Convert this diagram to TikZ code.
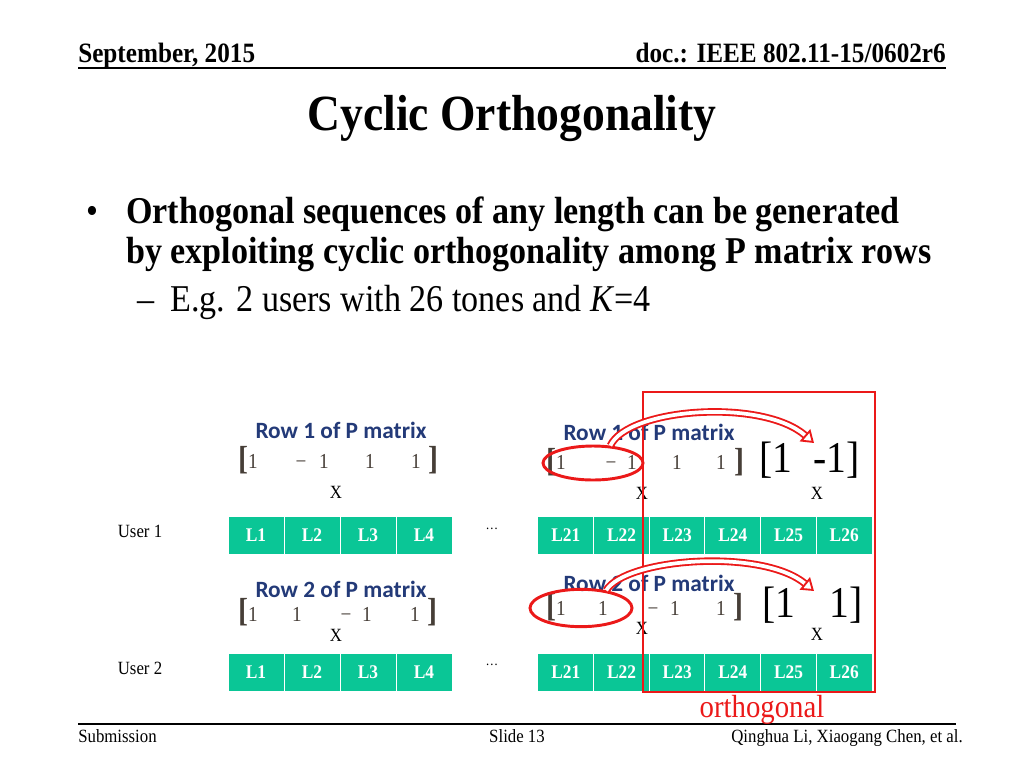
\documentclass[tikz,border=0pt]{standalone}
\usepackage{fontspec}
\setmainfont[FakeStretch=0.9]{Liberation Serif}
\newfontfamily\rowfont{Carlito}
\usetikzlibrary{positioning,arrows.meta,shapes.geometric}
\definecolor{tonegreen}{RGB}{10,198,150}
\definecolor{rowblue}{RGB}{35,58,120}
\definecolor{markred}{RGB}{235,25,25}
\definecolor{entrygray}{RGB}{70,62,55}
\newcommand{\sizept}[1]{\fontsize{#1}{#1}\selectfont}
\tikzset{
  tone/.style={fill=tonegreen, draw=white, line width=0.6pt, minimum width=41.9pt, minimum height=28.5pt, inner sep=0pt, text=white, font=\sizept{14.5pt}\bfseries},
  rowtitle/.style={text=rowblue, font=\rowfont\bfseries\sizept{17.5pt}, inner sep=0pt},
  entry/.style={text=entrygray, font=\sizept{16pt}, inner sep=0pt, anchor=base},
  brack/.style={text=entrygray, font=\sizept{25pt}\bfseries, inner sep=0pt, anchor=base},
  mult/.style={font=\sizept{14pt}, inner sep=0pt},
  pairtext/.style={font=\sizept{33pt}, inner sep=0pt, anchor=base west},
  ring/.style={draw=markred, line width=2.2pt, ellipse, inner sep=0pt},
  cyclearrow/.style={draw=markred, line width=1.4pt, double=white, double distance=2.8pt, -{Triangle[length=9pt, width=12pt, line width=1.4pt, fill=white]}},
}
\begin{document}
\begin{tikzpicture}[x=0.75pt,y=-0.75pt]
\useasboundingbox (0,0) rectangle (1024,768);
% header and footer
\node[anchor=base west, inner sep=0pt, font=\sizept{21pt}\bfseries] (date) at (78,62) {September, 2015};
\node[anchor=base east, inner sep=0pt, font=\sizept{21pt}\bfseries] (docid) at (946,62) {doc.: IEEE 802.11-15/0602r6};
\draw[line width=1.5pt] (78,68)--(946,68);
\draw[line width=1.1pt] (78,724)--(956,724);
\node[anchor=base west, inner sep=0pt, font=\sizept{14pt}] (subm) at (78,742) {Submission};
\node[anchor=base, inner sep=0pt, font=\sizept{14pt}] (slide) at (517,742) {Slide 13};
\node[anchor=base east, inner sep=0pt, font=\sizept{14pt}] (authors) at (963,742) {Qinghua Li, Xiaogang Chen, et al.};
% title and bullets
\node[anchor=base, inner sep=0pt, font=\sizept{38pt}\bfseries] (title) at (512,130) {Cyclic Orthogonality};
\node[anchor=base, inner sep=0pt, font=\sizept{28.4pt}] (dot) at (92,223) {•};
\node[anchor=base west, inner sep=0pt, font=\sizept{28.4pt}\bfseries] (line1) at (126,223) {Orthogonal sequences of any length can be generated};
\node[anchor=base west, inner sep=0pt, font=\sizept{28.4pt}\bfseries] (line2) at (126,263) {by exploiting cyclic orthogonality among P matrix rows};
\node[anchor=base, inner sep=0pt, font=\sizept{28.4pt}] (dash) at (146,311) {–};
\node[anchor=base west, inner sep=0pt, font=\sizept{28.4pt}] (sub) at (170,311) {E.g. 2 users with 26 tones and \textit{K}=4};
% users and tones
\node[inner sep=0pt, font=\sizept{14pt}] (user1) at (140,531) {User 1};
\node[inner sep=0pt, font=\sizept{14pt}] (user2) at (140,668) {User 2};
\foreach \i/\x in {1/256,2/312,3/368,4/424}
{
    \node[tone] (ua\i) at (\x,535) {L\i};
    \node[tone] (va\i) at (\x,672) {L\i};
}
\foreach \i/\x in {21/565.8,22/621.5,23/677.2,24/732.8,25/788.5,26/844.2}
{
    \node[tone] (ub\i) at (\x,535) {L\i};
    \node[tone] (vb\i) at (\x,672) {L\i};
}
\node[inner sep=0pt, font=\sizept{10.5pt}] (gapa) at (492,529) {…};
\node[inner sep=0pt, font=\sizept{10.5pt}] (gapb) at (492,665) {…};
% rows of P matrix
\node[rowtitle] (rowa) at (341,430) {Row 1 of P matrix};
\node[rowtitle] (rowb) at (649,432) {Row 1 of P matrix};
\node[rowtitle] (rowc) at (341,589) {Row 2 of P matrix};
\node[rowtitle] (rowd) at (649,583) {Row 2 of P matrix};
\foreach \x/\v [count=\k] in {253/1,301/−,324/1,370/1,416/1}
{
    \node[entry] (ma\k) at (\x,468) {\v};
}
\foreach \x/\v [count=\k] in {561/1,611/−,632/1,677/1,721/1}
{
    \node[entry] (mb\k) at (\x,469) {\v};
}
\foreach \x/\v [count=\k] in {253/1,297/1,346/−,367/1,415/1}
{
    \node[entry] (mc\k) at (\x,621) {\v};
}
\foreach \x/\v [count=\k] in {561/1,603/1,653/−,675/1,721/1}
{
    \node[entry] (md\k) at (\x,615) {\v};
}
\node[brack] (la) at (243,469) {[};
\node[brack] (ra) at (433,469) {]};
\node[brack] (lb) at (551,471) {[};
\node[brack] (rb) at (739,471) {]};
\node[brack] (lc) at (243,621) {[};
\node[brack] (rc) at (432,621) {]};
\node[brack] (ld) at (551,616) {[};
\node[brack] (rd) at (738,616) {]};
\node[mult] (xa) at (336,492) {X};
\node[mult] (xb) at (642,493) {X};
\node[mult] (xc) at (817,493) {X};
\node[mult] (xd) at (336,635) {X};
\node[mult] (xe) at (642,628) {X};
\node[mult] (xf) at (817,634) {X};
\node[pairtext] (paira) at (759,472) {[1\hspace{15.75pt}-1]};
\node[pairtext] (pairb) at (762,617) {[1\hspace{25.5pt}1]};
% cyclic shift marks
\node[draw=markred, line width=2.2pt, minimum width=174pt, minimum height=225pt, inner sep=0pt] (orthobox) at (759,542) {};
\node[anchor=base, inner sep=0pt, font=\sizept{24pt}, text=markred] (orthlabel) at (762,717) {orthogonal};
\node[ring, minimum width=75pt, minimum height=25.5pt] (ring1) at (593,463) {};
\node[ring, minimum width=76.5pt, minimum height=28pt] (ring2) at (581,608) {};
\coordinate (tip1) at (814,443);
\coordinate (tip2) at (814,591);
\draw[cyclearrow] (ring1.45) .. controls (628,408) and (762,398) .. (tip1);
\draw[cyclearrow] (ring2.35) .. controls (626,558) and (762,548) .. (tip2);
\end{tikzpicture}
\end{document}
